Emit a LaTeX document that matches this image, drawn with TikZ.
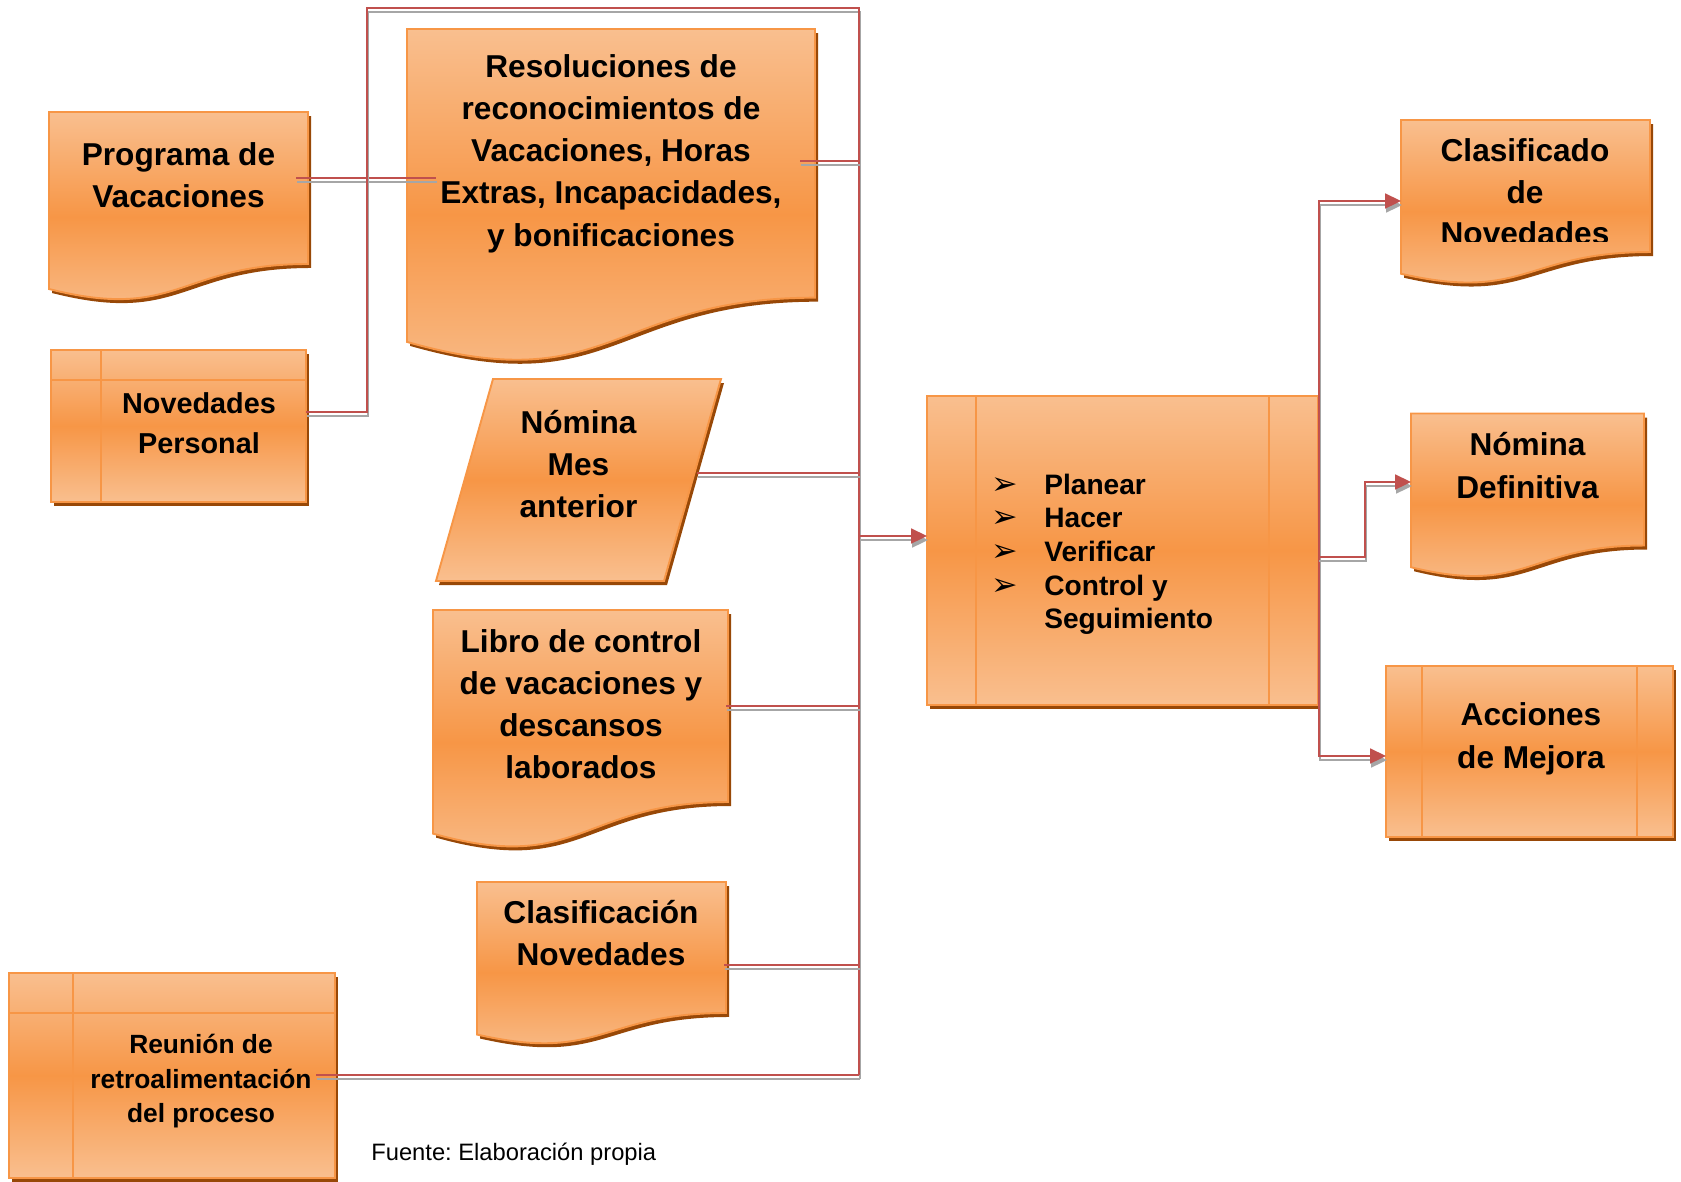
\documentclass[tikz,border=0pt]{standalone}
\usepackage{fontspec}
\setmainfont{Liberation Sans}
\newfontfamily\dingfont{DejaVu Sans}
\usetikzlibrary{arrows.meta}

\definecolor{boxlight}{HTML}{F9BF8F}
\definecolor{boxmid}{HTML}{F79646}
\definecolor{boxline}{HTML}{F79646}
\definecolor{boxshadow}{HTML}{984807}
\definecolor{wirered}{HTML}{C0504D}
\definecolor{wiregray}{HTML}{A6A6A6}

\tikzset{
  boxfill/.style={top color=boxlight, bottom color=boxlight, middle color=boxmid,
    draw=boxline, line width=1.1pt, line join=miter},
  boxshade/.style={fill=boxshadow},
  innerline/.style={draw=boxline, line width=1.1pt},
  lbl/.style={anchor=north, inner sep=0pt, align=center, yshift=16pt},
  big/.style={lbl, font=\bfseries\fontsize{18pt}{24pt}\selectfont},
  wire/.style={draw=wirered, line width=1pt},
  wireshadow/.style={draw=wiregray, line width=1pt,
    transform canvas={shift={(1,4)}}},
  tip/.style={-{Triangle[length=9pt,width=8.5pt]}},
}

% document symbol: left, top, right, height
\newcommand\docshape[4]{%
  \pgfmathsetmacro\dsMid{(#1+#3)/2}%
  \fill[boxshade] (#1+3,#2+4) -- (#3+3,#2+4) -- (#3+3,{#2+4+0.802*#4})
    .. controls (\dsMid+3,{#2+4+0.802*#4}) and (\dsMid+3,{#2+4+1.1075*#4})
    .. (#1+3,{#2+4+0.934*#4}) -- cycle;
  \path[boxfill] (#1,#2) -- (#3,#2) -- (#3,{#2+0.802*#4})
    .. controls (\dsMid,{#2+0.802*#4}) and (\dsMid,{#2+1.1075*#4})
    .. (#1,{#2+0.934*#4}) -- cycle;
}
% internal storage symbol: left, top, right, bottom
\newcommand\storeshape[4]{%
  \fill[boxshade] (#1+3,#2+4) rectangle (#3+3,#4+4);
  \path[boxfill] (#1,#2) rectangle (#3,#4);
  \draw[innerline] ({#1+0.196*(#3-#1)},#2) -- ({#1+0.196*(#3-#1)},#4);
  \draw[innerline] (#1,{#2+0.196*(#4-#2)}) -- (#3,{#2+0.196*(#4-#2)});
}
% predefined process symbol: left, top, right, bottom
\newcommand\procshape[4]{%
  \fill[boxshade] (#1+3,#2+4) rectangle (#3+3,#4+4);
  \path[boxfill] (#1,#2) rectangle (#3,#4);
  \draw[innerline] ({#1+0.125*(#3-#1)},#2) -- ({#1+0.125*(#3-#1)},#4);
  \draw[innerline] ({#3-0.125*(#3-#1)},#2) -- ({#3-0.125*(#3-#1)},#4);
}
% connector with its grey drop shadow
\newcommand\wire[2][]{%
  \draw[wireshadow,#1] #2;
  \draw[wire,#1] #2;
}

\begin{document}
\frenchspacing
\begin{tikzpicture}[x=0.02cm, y=-0.02cm]
\useasboundingbox (0,0) rectangle (1681,1181);

% ---------- input side ----------
\docshape{49}{112}{308}{189.5}
\node[big] (prog) at (178.5,165) {\rule{0pt}{16pt}Programa de\\Vacaciones};

\storeshape{51}{350}{306}{502}
\node[lbl, font=\bfseries\fontsize{16.4pt}{22.7pt}\selectfont] (novper) at (199,413)
  {\rule{0pt}{16pt}Novedades\\Personal};

\docshape{407}{29}{815}{335}
\node[big] (resol) at (611,77) {\rule{0pt}{16pt}Resoluciones de\\reconocimientos de\\Vacaciones, Horas\\Extras, Incapacidades,\\y bonificaciones};

\fill[boxshade] (439,585) -- (496,383) -- (724,383) -- (667,585) -- cycle;
\path[boxfill] (436,581) -- (493,379) -- (721,379) -- (664,581) -- cycle;
\node[big] (nomant) at (578.5,433) {\rule{0pt}{16pt}Nómina\\Mes\\anterior};

\docshape{433}{610}{728}{239.4}
\node[big] (libro) at (581,652) {\rule{0pt}{16pt}Libro de control\\de vacaciones y\\descansos\\laborados};

\docshape{477}{882}{726}{163.3}
\node[big] (clasif) at (601,923) {\rule{0pt}{16pt}Clasificación\\Novedades};

\storeshape{9}{973}{335}{1178}
\node[lbl, font=\bfseries\fontsize{15pt}{19.8pt}\selectfont] (reunion) at (201,1053)
  {\rule{0pt}{16pt}Reunión de\\retroalimentación\\del proceso};

% ---------- central process ----------
\procshape{927}{396}{1318}{705}
\node[anchor=north west, inner sep=0pt, align=left, yshift=16pt,
  font=\dingfont\fontsize{18pt}{19.1pt}\selectfont] (bullets) at (991,494)
  {\rule{0pt}{16pt}➢\\➢\\➢\\➢};
\node[anchor=north west, inner sep=0pt, align=left, yshift=16pt,
  font=\bfseries\fontsize{16pt}{19.1pt}\selectfont] (pdca) at (1044,494)
  {\rule{0pt}{16pt}Planear\\Hacer\\Verificar\\Control y\\Seguimiento};

% ---------- outputs ----------
\docshape{1401}{120}{1650}{164.6}
\begin{scope}
  \clip (1390,100) rectangle (1660,241);
  \node[lbl, font=\bfseries\fontsize{18pt}{23.8pt}\selectfont] (clasificado) at (1525,161)
    {\rule{0pt}{16pt}Clasificado\\de\\Novedades};
\end{scope}

\docshape{1411}{413.5}{1644}{164.6}
\node[big] (nomdef) at (1527.5,455.5) {\rule{0pt}{16pt}Nómina\\Definitiva};

\procshape{1386}{666}{1673}{837}
\node[lbl, font=\bfseries\fontsize{18pt}{24.4pt}\selectfont] (acciones) at (1531,725)
  {\rule{0pt}{16pt}Acciones\\de Mejora};

\node[anchor=base west, inner sep=0pt, font=\fontsize{13.5pt}{16pt}\selectfont] (fuente)
  at (371,1160) {Fuente: Elaboración propia};

% ---------- connection points ----------
\coordinate (progOut) at (296,178);
\coordinate (resolIn) at (436,178);
\coordinate (novOut) at (306,412);
\coordinate (busCorner) at (367,8);
\coordinate (busTop) at (859,8);
\coordinate (busBottom) at (859,1075);
\coordinate (resolOut) at (800,161);
\coordinate (nomOut) at (697,473);
\coordinate (libroOut) at (726,706);
\coordinate (clasifOut) at (724,965);
\coordinate (reunionOut) at (316,1075);
\coordinate (busMid) at (859,536);
\coordinate (pdcaIn) at (927,536);
\coordinate (pdcaOut) at (1318,557);
\coordinate (forkOut) at (1319,557);
\coordinate (clasificadoIn) at (1401,201);
\coordinate (nomdefIn) at (1411,482);
\coordinate (accionesIn) at (1386,756);

% ---------- connectors ----------
\wire{(progOut) -- (resolIn)}
\wire{(novOut) -| (busCorner) -- (busTop) -- (busBottom)}
\wire{(resolOut) -- (resolOut -| busTop)}
\wire{(nomOut) -- (nomOut -| busTop)}
\wire{(libroOut) -- (libroOut -| busTop)}
\wire{(clasifOut) -- (clasifOut -| busTop)}
\wire{(reunionOut) -- (busBottom)}
\wire[tip]{(busMid) -- (pdcaIn)}
\wire[tip]{(forkOut) |- (clasificadoIn)}
\wire[tip]{(forkOut) |- (accionesIn)}
\wire[tip]{(pdcaOut) -- ++(47,0) |- (nomdefIn)}
\end{tikzpicture}
\end{document}
